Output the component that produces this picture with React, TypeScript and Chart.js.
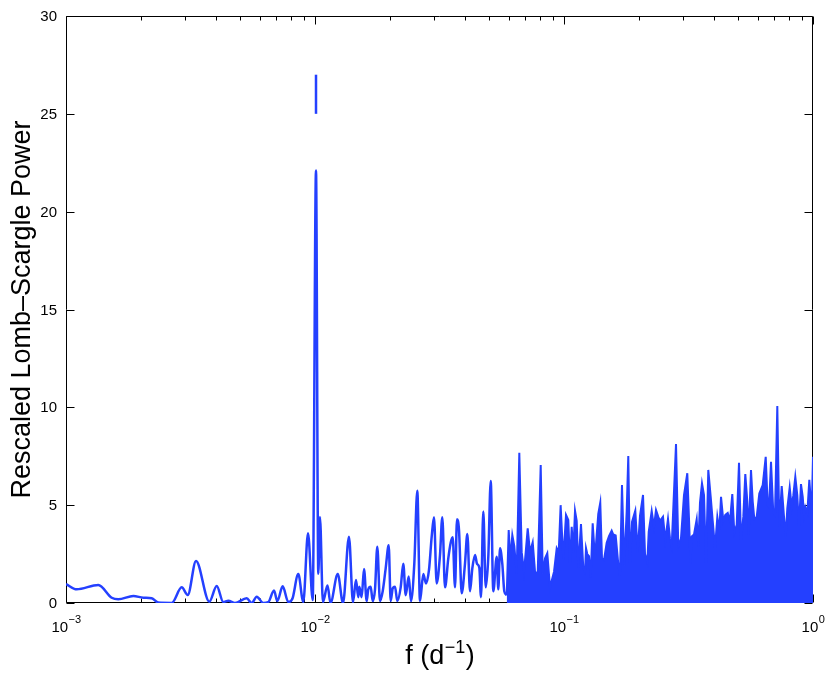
import React, { useEffect, useRef } from "react";
import { Chart, registerables } from "chart.js";

Chart.register(...registerables);

// ---- Data ----
// Low-frequency part of the periodogram (drawn as a plain line)
const lowFreq = [
  0.001, 0.001104, 0.001348, 0.001526, 0.001622, 0.001864, 0.002044, 0.002209, 0.002348, 0.002658,
  0.002915, 0.003082, 0.003328, 0.003763, 0.00403, 0.004282, 0.004486, 0.004771, 0.005318, 0.00557,
  0.005834, 0.0062, 0.006494, 0.006845, 0.007056, 0.007417, 0.007813, 0.008107, 0.008568, 0.008974,
  0.009374, 0.00979, 0.010093, 0.01031, 0.01047, 0.01076, 0.011225, 0.01154, 0.01234, 0.01296,
  0.01369, 0.01421, 0.01461, 0.014925, 0.01506, 0.0154, 0.01573, 0.016127, 0.016367, 0.016735,
  0.01705, 0.017418, 0.017791, 0.018239, 0.018703, 0.019226, 0.019768, 0.020137, 0.020513, 0.020955,
  0.021409, 0.022087, 0.022625, 0.023133, 0.023785, 0.024295, 0.025048, 0.025752, 0.026404, 0.027222,
  0.02791, 0.028695, 0.02942, 0.030052, 0.030812, 0.031769, 0.032451, 0.033273, 0.034302, 0.035072,
  0.035726, 0.036499, 0.037177, 0.037871, 0.03883, 0.04004, 0.040904, 0.041935, 0.042836, 0.043925,
  0.044739, 0.045702, 0.046416, 0.047414, 0.048479, 0.049659, 0.050774, 0.052009, 0.053671, 0.05447,
  0.055335, 0.056523, 0.057578, 0.058871,
];
const lowPower = [
  0.97, 0.7, 0.92, 0.27, 0.19, 0.36, 0.27, 0.24, 0.02, 0.0,
  0.8, 0.41, 2.15, 0.07, 0.87, 0.05, 0.12, 0.0, 0.24, 0.0,
  0.32, 0.0, 0.05, 0.64, 0.1, 0.85, 0.05, 0.2, 1.48, 0.05,
  3.56, 0.15, 22.1, 1.5, 4.4, 0.05, 0.9, 0.0, 1.48, 0.0,
  3.39, 0.05, 1.17, 0.3, 0.83, 0.3, 1.74, 0.1, 0.7, 0.83,
  0.1, 0.7, 2.88, 0.1, 0.6, 1.77, 2.95, 0.1, 0.75, 0.83,
  0.1, 0.8, 2.0, 0.4, 1.35, 0.1, 2.0, 5.74, 0.1, 1.48,
  1.0, 1.69, 3.39, 4.38, 1.0, 2.45, 4.38, 0.8, 2.28, 3.08,
  3.36, 0.8, 4.28, 3.73, 0.5, 2.03, 3.53, 0.6, 1.77, 2.45,
  2.0, 1.8, 0.3, 4.67, 0.8, 2.37, 6.23, 0.6, 2.37, 0.7,
  2.8, 2.0, 0.6, 0.4,
];

// High-frequency part (dense, appears filled)
const highFreq = [
  0.058871, 0.05997, 0.060866, 0.062002,
  0.06316, 0.064577, 0.066148, 0.067632, 0.069084, 0.070179, 0.071488, 0.073025, 0.074873, 0.076489,
  0.078412, 0.08062, 0.082125, 0.08391, 0.085694, 0.08786, 0.091192, 0.093494, 0.095239, 0.096932,
  0.099356, 0.10187, 0.10406, 0.1057, 0.10738, 0.10898, 0.11071, 0.11246, 0.11413, 0.117,
  0.11954, 0.12143, 0.12256, 0.12404, 0.126, 0.12798, 0.13037, 0.13317, 0.13528, 0.13729,
  0.13986, 0.14208, 0.14477, 0.1484, 0.15161, 0.15542, 0.15773, 0.16127, 0.16519, 0.16781,
  0.17095, 0.17463, 0.17855, 0.18121, 0.18408, 0.18755, 0.19334, 0.19768, 0.20193, 0.20766,
  0.21153, 0.21608, 0.2189, 0.225, 0.22978, 0.23413, 0.23917, 0.24295, 0.24978, 0.25515,
  0.26161, 0.26651, 0.27071, 0.28173, 0.28775, 0.29502, 0.30332, 0.31272, 0.31857, 0.32212,
  0.32571, 0.33273, 0.34112, 0.34621, 0.3517, 0.35826, 0.36499, 0.37177, 0.37977, 0.3883,
  0.39558, 0.40413, 0.41284, 0.42056, 0.42718, 0.43638, 0.44451, 0.45449, 0.46416, 0.47414,
  0.48301, 0.49384, 0.50447, 0.51387, 0.52492, 0.53471, 0.5447, 0.55182, 0.56364, 0.57259,
  0.58112, 0.59416, 0.60866, 0.62806, 0.64577, 0.65781, 0.66577, 0.6782, 0.69276, 0.70374,
  0.71886, 0.73229, 0.74873, 0.76489, 0.77692, 0.78857, 0.8062, 0.82125, 0.83347, 0.84903,
  0.8649, 0.8786, 0.89474, 0.90938, 0.92041, 0.9315, 0.9489, 0.9665, 0.98806, 1.0,
];
const highPower = [
  0.4, 3.73, 2.2, 3.47,
  2.9, 1.5, 7.68, 2.6, 1.6, 2.6, 3.82, 2.6, 3.1, 1.6,
  1.5, 7.05, 1.5, 2.28, 2.54, 0.8, 1.6, 2.8, 2.6, 5.0,
  2.2, 4.5, 4.24, 2.0, 3.9, 2.6, 4.72, 4.2, 1.8, 4.04,
  1.8, 1.6, 2.8, 2.5, 2.4, 1.3, 4.07, 2.3, 3.47, 4.55,
  5.13, 2.3, 2.2, 3.08, 3.42, 3.7, 3.5, 3.45, 2.0, 1.4,
  6.03, 1.9, 4.7, 7.51, 2.0, 4.15, 4.72, 2.6, 4.46, 5.52,
  2.5, 2.1, 3.64, 4.7, 3.9, 4.75, 4.4, 4.2, 4.41, 3.2,
  4.3, 3.3, 2.9, 8.12, 2.9, 3.3, 5.52, 6.63, 3.9, 2.0,
  3.4, 3.5, 4.28, 2.9, 5.13, 6.12, 5.52, 2.0, 6.8, 5.43,
  4.2, 2.8, 4.4, 3.7, 5.43, 4.2, 4.5, 4.6, 4.2, 5.57,
  3.6, 4.0, 7.17, 3.2, 4.4, 6.59, 5.2, 3.5, 6.8, 5.2,
  4.3, 4.4, 5.6, 6.03, 7.47, 5.0, 4.9, 7.22, 4.6, 4.5,
  10.07, 3.9, 5.98, 4.4, 3.4, 4.84, 5.91, 4.9, 5.5, 6.45,
  5.5, 3.9, 6.08, 5.43, 4.5, 4.9, 4.6, 6.3, 4.6, 7.47,
];

// Detached segment of the main peak (above the gap)
const peakSegFreq = [0.010093, 0.010093];
const peakSegPower = [25.0, 27.0];

// Axes
const xMin = 0.001;
const xMax = 1;
const yMin = 0;
const yMax = 30;
const yTickValues = [0, 5, 10, 15, 20, 25, 30];
const yTickLabels = ["0", "5", "10", "15", "20", "25", "30"];
const xTickValues = [0.001, 0.01, 0.1, 1];
const xTickBase = ["10", "10", "10", "10"];
const xTickExp = ["\u22123", "\u22122", "\u22121", "0"];
const xMinorMultipliers = [2, 3, 4, 5, 6, 7, 8, 9];

const yTitle = "Rescaled Lomb\u2013Scargle Power";
const xTitleMain = "f (d";
const xTitleSup = "\u22121";
const xTitleEnd = ")";

const BLUE = "#2440ff";
const FONT = "'Liberation Sans', Arial, Helvetica, sans-serif";

const toPts = (xs: number[], ys: number[]) => xs.map((x, i) => ({ x, y: ys[i] }));

const matlabAxes = {
  id: "matlabAxes",
  beforeDatasetsDraw(chart: any) {
    const ctx = chart.ctx as CanvasRenderingContext2D;
    const { left, right, top, bottom } = chart.chartArea;
    const xs = chart.scales.x;
    const ys = chart.scales.y;
    const L = Math.round(left) + 0.5;
    const R = Math.round(right) - 0.5;
    const T = Math.round(top) + 0.5;
    const B = Math.round(bottom) - 0.5;
    ctx.save();
    ctx.strokeStyle = "#000";
    ctx.lineWidth = 1;
    ctx.beginPath();
    ctx.rect(L, T, R - L, B - T);
    const majorLen = 8;
    const minorLen = 4;
    const xTick = (v: number, len: number) => {
      const px = Math.round(xs.getPixelForValue(v)) + 0.5;
      ctx.moveTo(px, B);
      ctx.lineTo(px, B - len);
      ctx.moveTo(px, T);
      ctx.lineTo(px, T + len);
    };
    xTickValues.forEach((v) => xTick(v, majorLen));
    xTickValues.slice(0, -1).forEach((d) => xMinorMultipliers.forEach((m) => xTick(d * m, minorLen)));
    yTickValues.forEach((v) => {
      const py = Math.round(ys.getPixelForValue(v)) + 0.5;
      ctx.moveTo(L, py);
      ctx.lineTo(L + majorLen, py);
      ctx.moveTo(R, py);
      ctx.lineTo(R - majorLen, py);
    });
    ctx.stroke();
    ctx.restore();
  },
  afterDraw(chart: any) {
    const ctx = chart.ctx as CanvasRenderingContext2D;
    const { left, right, top, bottom } = chart.chartArea;
    const xs = chart.scales.x;
    const ys = chart.scales.y;
    ctx.save();
    ctx.fillStyle = "#000";
    ctx.font = `15px ${FONT}`;
    ctx.textAlign = "right";
    ctx.textBaseline = "middle";
    yTickValues.forEach((v, i) => {
      ctx.fillText(yTickLabels[i], left - 9, ys.getPixelForValue(v) + 1);
    });
    ctx.textAlign = "left";
    ctx.textBaseline = "alphabetic";
    xTickValues.forEach((v, i) => {
      const px = xs.getPixelForValue(v);
      ctx.font = `15px ${FONT}`;
      const w1 = ctx.measureText(xTickBase[i]).width;
      ctx.font = `11px ${FONT}`;
      const w2 = ctx.measureText(xTickExp[i]).width;
      const x0 = px - (w1 + w2) / 2;
      ctx.font = `15px ${FONT}`;
      ctx.fillText(xTickBase[i], x0, bottom + 29);
      ctx.font = `11px ${FONT}`;
      ctx.fillText(xTickExp[i], x0 + w1 + 0.5, bottom + 20);
    });
    ctx.save();
    ctx.font = `27px ${FONT}`;
    ctx.textAlign = "center";
    ctx.textBaseline = "alphabetic";
    ctx.translate(30, (top + bottom) / 2);
    ctx.rotate(-Math.PI / 2);
    ctx.fillText(yTitle, 0, 0);
    ctx.restore();
    ctx.font = `27px ${FONT}`;
    const a = ctx.measureText(xTitleMain).width;
    const c = ctx.measureText(xTitleEnd).width;
    ctx.font = `18px ${FONT}`;
    const b = ctx.measureText(xTitleSup).width;
    const cx = (left + right) / 2;
    const x0 = cx - (a + b + c) / 2;
    const base = bottom + 61;
    ctx.font = `27px ${FONT}`;
    ctx.fillText(xTitleMain, x0, base);
    ctx.fillText(xTitleEnd, x0 + a + b + 1, base);
    ctx.font = `18px ${FONT}`;
    ctx.fillText(xTitleSup, x0 + a + 0.5, base - 11);
    ctx.restore();
  },
};

export default function App() {
  const canvasRef = useRef<HTMLCanvasElement | null>(null);

  useEffect(() => {
    const canvas = canvasRef.current;
    if (!canvas) return;
    const chart = new Chart(canvas, {
      type: "scatter",
      data: {
        datasets: [
          {
            data: toPts(lowFreq, lowPower),
            showLine: true,
            borderColor: BLUE,
            borderWidth: 2.5,
            pointRadius: 0,
            fill: false,
            cubicInterpolationMode: "monotone",
          },
          {
            data: toPts(highFreq, highPower),
            showLine: true,
            borderColor: BLUE,
            backgroundColor: BLUE,
            borderWidth: 2,
            pointRadius: 0,
            fill: "origin",
            tension: 0,
          },
          {
            data: toPts(peakSegFreq, peakSegPower),
            showLine: true,
            borderColor: BLUE,
            borderWidth: 2.5,
            borderCapStyle: "butt",
            pointRadius: 0,
            fill: false,
          },
        ],
      },
      options: {
        animation: false,
        responsive: false,
        maintainAspectRatio: false,
        layout: { padding: { top: 16, right: 17, left: 0, bottom: 0 } },
        plugins: { legend: { display: false }, tooltip: { enabled: false } },
        scales: {
          x: {
            type: "logarithmic",
            min: xMin,
            max: xMax,
            grid: { display: false },
            border: { display: false },
            ticks: { display: false },
            afterFit: (s: any) => {
              s.height = 70;
            },
          },
          y: {
            type: "linear",
            min: yMin,
            max: yMax,
            grid: { display: false },
            border: { display: false },
            ticks: { display: false },
            afterFit: (s: any) => {
              s.width = 66;
            },
          },
        },
      },
      plugins: [matlabAxes],
    } as any);
    return () => chart.destroy();
  }, []);

  return (
    <div style={{ position: "absolute", left: 0, top: 0, width: 830, height: 673, background: "#fff" }}>
      <canvas ref={canvasRef} width={830} height={673} style={{ display: "block" }} />
    </div>
  );
}
